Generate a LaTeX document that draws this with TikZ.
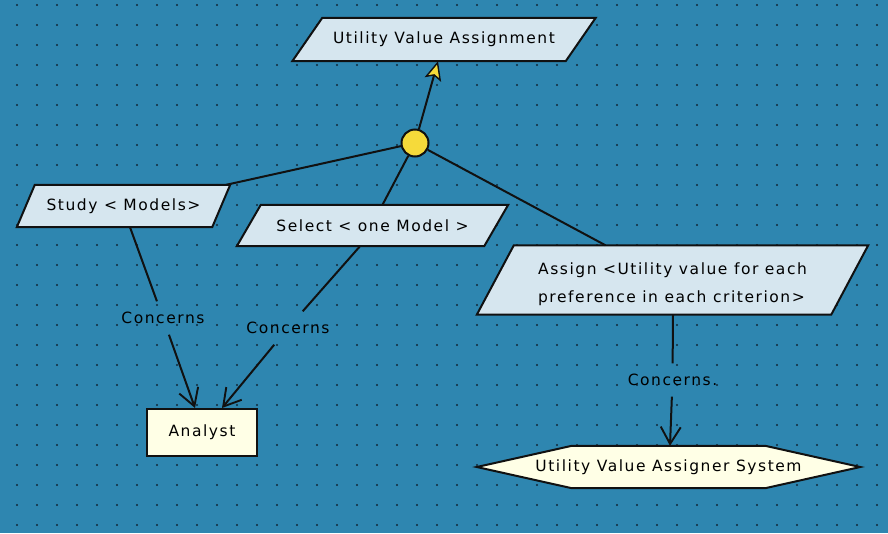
\documentclass[tikz,border=0pt]{standalone}
\usepackage{fontspec}
\setmainfont{DejaVu Sans}[LetterSpace=10]
\usetikzlibrary{arrows.meta,calc}

\definecolor{canvas}{HTML}{2E86B0}
\definecolor{griddot}{HTML}{10283A}
\definecolor{notefill}{HTML}{D6E6EF}
\definecolor{agentfill}{HTML}{FFFFE6}
\definecolor{nodeyellow}{HTML}{F6DA3A}
\definecolor{edge}{HTML}{111111}

\pgfdeclarelayer{dots}
\pgfdeclarelayer{shapes}
\pgfsetlayers{dots,shapes,main}

% slanted (parallelogram) outline around a named text node
\newcommand\slantoutline[2]{%
  \draw[outline, fill=notefill]
    ([xshift=#2]#1.north west) -- ([xshift=#2]#1.north east) --
    ([xshift=-#2]#1.south east) -- ([xshift=-#2]#1.south west) -- cycle;}

\begin{document}
\begin{tikzpicture}[x=1pt, y=-1pt,
  every node/.style={font=\fontsize{15.5pt}{28pt}\selectfont, text=black, inner sep=0pt},
  outline/.style={draw=edge, line width=2pt, line join=miter},
  conn/.style={draw=edge, line width=2pt},
  barb/.style={-{Straight Barb[length=17pt, width=20pt, line width=1.9pt]}},
  lbl/.style={minimum width=92pt, minimum height=33pt}]

\useasboundingbox (0,0) rectangle (888,533);

% dotted grid canvas
\begin{pgfonlayer}{dots}
  \fill[canvas] (0,0) rectangle (888,533);
  \foreach \gx in {17,37,...,877}
    \foreach \gy in {5,25,...,525}
      \fill[griddot] (\gx,\gy) circle[radius=1.15pt];
\end{pgfonlayer}

% goal and tasks
\node[minimum width=273pt, minimum height=43pt] (uva) at (444,39.5) {Utility Value Assignment};
\node[minimum width=195pt, minimum height=42pt] (study) at (123.5,206) {Study < Models>};
\node[minimum width=247pt, minimum height=41pt] (select) at (372.5,225.5) {Select < one Model >};
\node[minimum width=354pt, minimum height=69pt, align=left] (assign) at (672.5,280)
  {\rule{0pt}{20pt}Assign <Utility value for each\\preference in each criterion>};

% agents
\node[outline, fill=agentfill, minimum width=110pt, minimum height=47pt] (analyst) at (202,432.5) {Analyst};
\node[minimum width=383pt, minimum height=42pt] (system) at (668.5,467) {Utility Value Assigner System};

% refinement junction
\node[circle, outline, fill=nodeyellow, minimum size=27pt] (junction) at (415,143) {};

% connector labels
\node[lbl] (c1) at (163,318) {Concerns};
\node[lbl] (c2) at (288,328) {Concerns};
\node[lbl] (c3) at (672.5,380) {Concerns.};

\begin{pgfonlayer}{shapes}
  \slantoutline{uva}{15}
  \slantoutline{study}{9}
  \slantoutline{select}{12}
  \slantoutline{assign}{18.5}
  \draw[outline, fill=agentfill]
    (system.west) -- ([xshift=95]system.north west) -- ([xshift=-95]system.north east) --
    (system.east) -- ([xshift=-95]system.south east) -- ([xshift=95]system.south west) -- cycle;
\end{pgfonlayer}

% refinement links
\draw[conn, -{Stealth[length=19pt, width=17pt, inset=4pt, fill=nodeyellow, line width=1.4pt]}]
  (junction) -- ([xshift=-6]uva.south);
\draw[conn] (junction) -- ([xshift=5]study.north east);
\draw[conn] (junction) -- ([xshift=10]select.north);
\draw[conn] (junction) -- ([xshift=-67]assign.north);

% concerns links
\draw[conn] ([xshift=6.5]study.south) -- (c1);
\draw[conn, barb] (c1) -- ([xshift=-7]analyst.north);
\draw[conn] ([xshift=-12.5]select.south) -- (c2);
\draw[conn, barb] (c2) -- ([xshift=20]analyst.north);
\draw[conn] ([xshift=0.5]assign.south) -- (c3);
\draw[conn, barb] (c3) -- ([xshift=1.5]system.north);

\end{tikzpicture}
\end{document}
